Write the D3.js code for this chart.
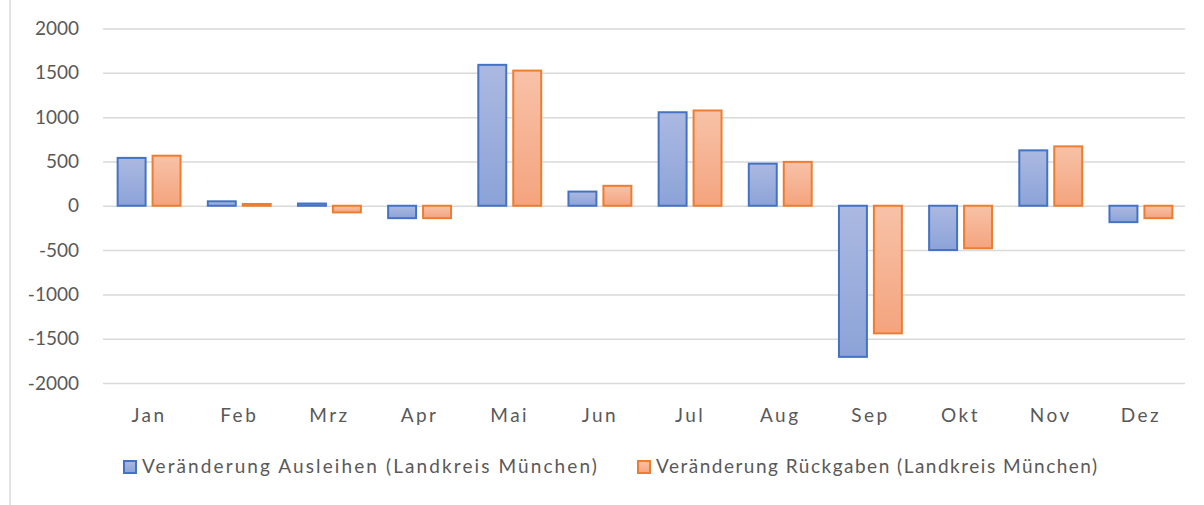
<!DOCTYPE html>
<html>
<head>
<meta charset="utf-8">
<script src="https://cdn.jsdelivr.net/npm/d3@7"></script>
<style>
  body { margin: 0; background: #fff; }
  svg text { font-family: Lato, "Open Sans", sans-serif; fill: #595959; }
</style>
</head>
<body>
<div id="chart"></div>
<script>
'use strict';

var months = ['Jan', 'Feb', 'Mrz', 'Apr', 'Mai', 'Jun', 'Jul', 'Aug', 'Sep', 'Okt', 'Nov', 'Dez'];
var seriesNames = ['Veränderung Ausleihen (Landkreis München)', 'Veränderung Rückgaben (Landkreis München)'];
var ausleihen = [540, 50, 25, -140, 1590, 160, 1055, 475, -1705, -500, 625, -185];
var rueckgaben = [565, 20, -75, -140, 1525, 225, 1075, 495, -1440, -480, 670, -140];
var yTicks = [-2000, -1500, -1000, -500, 0, 500, 1000, 1500, 2000];

var width = 1204;
var height = 505;
var plotLeft = 103, plotRight = 1185, plotTop = 28.5, plotBottom = 383;

var svg = d3.select('#chart')
    .append('svg')
    .attr('width', width)
    .attr('height', height);

// chart area border (left edge only visible)
svg.append('line')
    .attr('x1', 10).attr('x2', 10)
    .attr('y1', 0).attr('y2', height)
    .attr('stroke', '#d9d9d9')
    .attr('stroke-width', 1.5);

var defs = svg.append('defs');
function grad(id, c1, c2) {
    var g = defs.append('linearGradient')
        .attr('id', id)
        .attr('x1', 0).attr('y1', 0).attr('x2', 0).attr('y2', 1);
    g.append('stop').attr('offset', '0%').attr('stop-color', c1);
    g.append('stop').attr('offset', '100%').attr('stop-color', c2);
}
grad('gBlue', '#abb9e1', '#8ca3d8');
grad('gOrange', '#f8c2a8', '#f4a47e');

var fills = ['url(#gBlue)', 'url(#gOrange)'];
var strokes = ['#4472c4', '#ed7d31'];

var y = d3.scaleLinear().domain([-2000, 2000]).range([plotBottom, plotTop]);
var x0 = d3.scaleBand().domain(months).range([plotLeft, plotRight]).paddingInner(0).paddingOuter(0);
var x1 = d3.scaleBand().domain([0, 1]).range([0, x0.bandwidth()])
    .paddingInner(0.2).paddingOuter(0.39);

// gridlines + y labels
var yAxis = svg.append('g')
    .attr('transform', 'translate(' + plotLeft + ',0)')
    .call(d3.axisLeft(y).tickValues(yTicks).tickSize(-(plotRight - plotLeft)).tickPadding(24)
        .tickFormat(function(d) { return String(d); }));
yAxis.select('.domain').remove();
yAxis.selectAll('line').attr('stroke', '#d9d9d9').attr('stroke-width', 1.5);
yAxis.selectAll('text')
    .style('font-size', '19px')
    .style('font-family', 'Lato, sans-serif')
    .attr('fill', '#595959');

var data = months.map(function(m, i) {
    return { month: m, values: [ausleihen[i], rueckgaben[i]] };
});

var groups = svg.selectAll('.grp')
    .data(data)
    .enter()
    .append('g')
    .attr('class', 'grp')
    .attr('transform', function(d) { return 'translate(' + x0(d.month) + ',0)'; });

groups.selectAll('rect')
    .data(function(d) { return d.values.map(function(v, k) { return { k: k, v: v }; }); })
    .enter()
    .append('rect')
    .attr('x', function(d) { return x1(d.k) + 1; })
    .attr('width', x1.bandwidth())
    .attr('y', function(d) { return Math.min(y(d.v), y(0)); })
    .attr('height', function(d) { return Math.abs(y(d.v) - y(0)); })
    .attr('fill', function(d) { return fills[d.k]; })
    .attr('stroke', function(d) { return strokes[d.k]; })
    .attr('stroke-width', 2);

// month labels
svg.append('g')
    .selectAll('text')
    .data(months)
    .enter()
    .append('text')
    .attr('x', function(d) { return x0(d) + x0.bandwidth() / 2 + 1; })
    .attr('y', 422)
    .attr('text-anchor', 'middle')
    .style('font-size', '19px')
    .style('letter-spacing', '2.5px')
    .text(function(d) { return d; });

// legend
var legendX = [123, 637];
var legendSpacing = ['2.1px', '1.5px'];
var legend = svg.selectAll('.legend')
    .data(seriesNames)
    .enter()
    .append('g')
    .attr('class', 'legend')
    .attr('transform', function(d, i) { return 'translate(' + legendX[i] + ',460)'; });

legend.append('rect')
    .attr('x', 1).attr('y', 1)
    .attr('width', 12).attr('height', 12)
    .attr('fill', function(d, i) { return fills[i]; })
    .attr('stroke', function(d, i) { return strokes[i]; })
    .attr('stroke-width', 2);

legend.append('text')
    .attr('x', 19)
    .attr('y', 13)
    .style('font-size', '19px')
    .style('letter-spacing', function(d, i) { return legendSpacing[i]; })
    .text(function(d) { return d; });
</script>
</body>
</html>
